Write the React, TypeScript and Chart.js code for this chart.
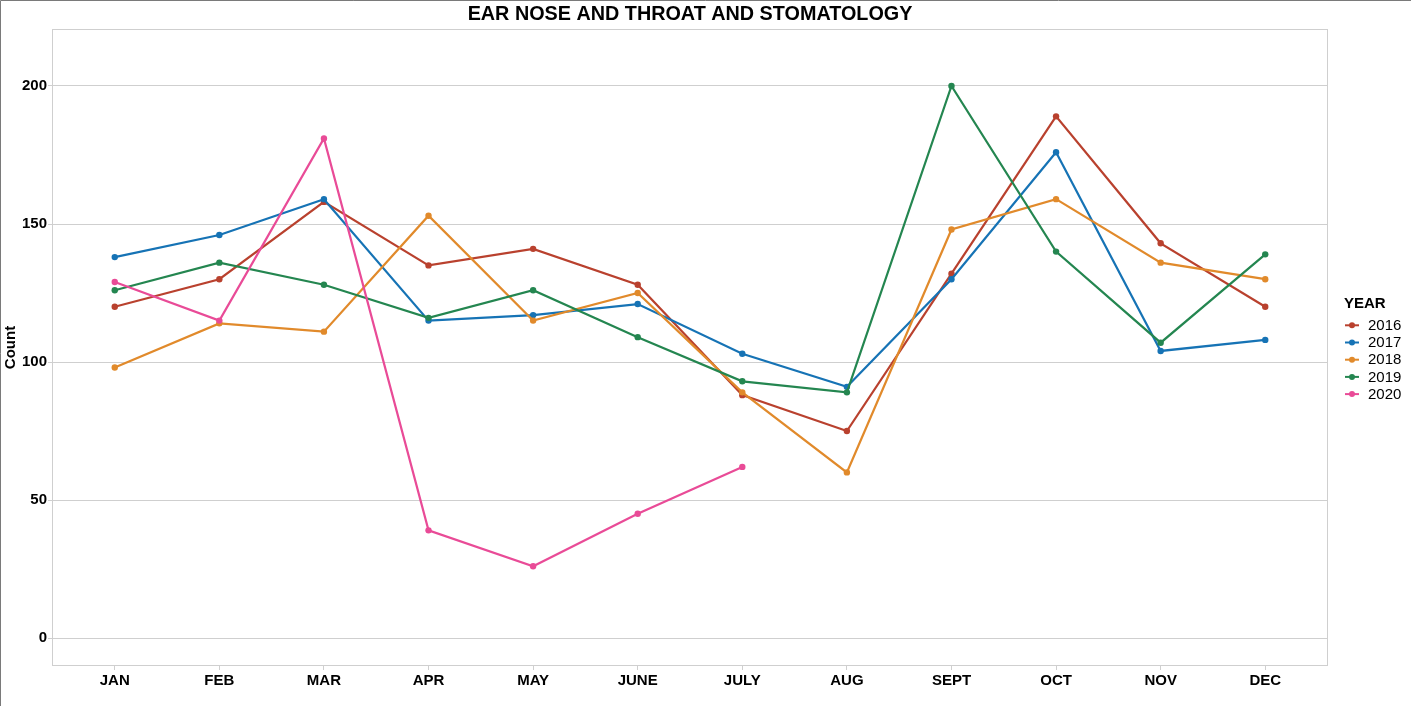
import React, { useEffect, useRef } from "react";
import { Chart, registerables } from "chart.js";

Chart.register(...registerables);

const months = ["JAN", "FEB", "MAR", "APR", "MAY", "JUNE", "JULY", "AUG", "SEPT", "OCT", "NOV", "DEC"];
const years = ["2016", "2017", "2018", "2019", "2020"];
const y2016 = [120, 130, 158, 135, 141, 128, 88, 75, 132, 189, 143, 120];
const y2017 = [138, 146, 159, 115, 117, 121, 103, 91, 130, 176, 104, 108];
const y2018 = [98, 114, 111, 153, 115, 125, 89, 60, 148, 159, 136, 130];
const y2019 = [126, 136, 128, 116, 126, 109, 93, 89, 200, 140, 107, 139];
const y2020 = [129, 115, 181, 39, 26, 45, 62];
const yTicks = [0, 50, 100, 150, 200];
const colors = ["#B9412E", "#1673B5", "#E18A2B", "#248650", "#E94B97"];

const title = "EAR NOSE AND THROAT AND STOMATOLOGY";
const FONT = "'Liberation Sans', Arial, sans-serif";

export default function App() {
  const ref = useRef<HTMLCanvasElement | null>(null);

  useEffect(() => {
    const canvas = ref.current;
    if (!canvas) return;
    const series = [y2016, y2017, y2018, y2019, y2020];

    const deco = {
      id: "deco",
      beforeDraw(chart: any) {
        const ctx = chart.ctx;
        ctx.save();
        ctx.fillStyle = "#ffffff";
        ctx.fillRect(0, 0, chart.width, chart.height);
        ctx.restore();
      },
      afterDraw(chart: any) {
        const ctx = chart.ctx;
        const a = chart.chartArea;
        ctx.save();
        // panel border
        ctx.strokeStyle = "#cfcfcf";
        ctx.lineWidth = 1;
        ctx.strokeRect(a.left + 0.5, a.top + 0.5, a.right - a.left - 1, a.bottom - a.top - 1);
        // outer border (top/left)
        ctx.strokeStyle = "#7a7a7a";
        ctx.beginPath();
        ctx.moveTo(0.5, chart.height);
        ctx.lineTo(0.5, 0.5);
        ctx.lineTo(chart.width, 0.5);
        ctx.stroke();
        // title
        ctx.fillStyle = "#000";
        ctx.font = `bold 19.8px ${FONT}`;
        ctx.textAlign = "center";
        ctx.textBaseline = "middle";
        ctx.fillText(title, (a.left + a.right) / 2, 15);
        // y axis title
        ctx.save();
        ctx.translate(11, (a.top + a.bottom) / 2);
        ctx.rotate(-Math.PI / 2);
        ctx.font = `bold 15px ${FONT}`;
        ctx.fillText("Count", 0, 0);
        ctx.restore();
        // legend
        ctx.textAlign = "left";
        ctx.font = `bold 15px ${FONT}`;
        ctx.fillText("YEAR", 1344, 303.5);
        ctx.font = `15px ${FONT}`;
        years.forEach((yr, i) => {
          const yy = 325.3 + i * 17.2;
          ctx.strokeStyle = colors[i];
          ctx.fillStyle = colors[i];
          ctx.lineWidth = 2;
          ctx.beginPath();
          ctx.moveTo(1345, yy);
          ctx.lineTo(1359, yy);
          ctx.stroke();
          ctx.beginPath();
          ctx.arc(1352, yy, 3, 0, Math.PI * 2);
          ctx.fill();
          ctx.fillStyle = "#000";
          ctx.fillText(yr, 1368, yy + 0.5);
        });
        ctx.restore();
      },
    };

    const chart = new Chart(canvas, {
      type: "line",
      data: {
        datasets: series.map((vals, i) => ({
          label: years[i],
          data: vals.map((v, j) => ({ x: j, y: v })),
          borderColor: colors[i],
          backgroundColor: colors[i],
          borderWidth: 2.2,
          pointRadius: 3.2,
          pointBorderWidth: 0,
          pointHoverRadius: 3.2,
          tension: 0,
          fill: false,
          order: 4 - i,
        })),
      },
      options: {
        responsive: false,
        animation: false,
        events: [],
        layout: { padding: { top: 29, right: 83, left: 0, bottom: 0 } },
        plugins: {
          legend: { display: false },
          title: { display: false },
          tooltip: { enabled: false },
        },
        scales: {
          x: {
            type: "linear",
            min: -0.6,
            max: 11.6,
            afterFit: (s: any) => {
              s.height = 40;
            },
            afterBuildTicks: (s: any) => {
              s.ticks = months.map((_, i) => ({ value: i }));
            },
            grid: {
              drawOnChartArea: false,
              drawTicks: true,
              tickLength: 4,
              color: "#cfcfcf",
            },
            border: { display: false },
            ticks: {
              padding: 2,
              color: "#000",
              font: { family: FONT, size: 15, weight: "bold" },
              callback: (v: any) => months[v as number] ?? "",
              maxRotation: 0,
              autoSkip: false,
            },
          },
          y: {
            min: -10.14,
            max: 220.65,
            afterFit: (s: any) => {
              s.width = 52;
            },
            afterBuildTicks: (s: any) => {
              s.ticks = yTicks.map((v) => ({ value: v }));
            },
            grid: {
              color: "#cfcfcf",
              lineWidth: 1,
              drawTicks: true,
              tickLength: 4,
            },
            border: { display: false },
            ticks: {
              padding: 1,
              color: "#000",
              font: { family: FONT, size: 15, weight: "bold" },
            },
          },
        },
      },
      plugins: [deco],
    });
    return () => chart.destroy();
  }, []);

  return (
    <div style={{ position: "fixed", left: 0, top: 0, width: 1411, height: 706, background: "#fff" }}>
      <canvas ref={ref} width={1411} height={706} style={{ display: "block" }} />
    </div>
  );
}
